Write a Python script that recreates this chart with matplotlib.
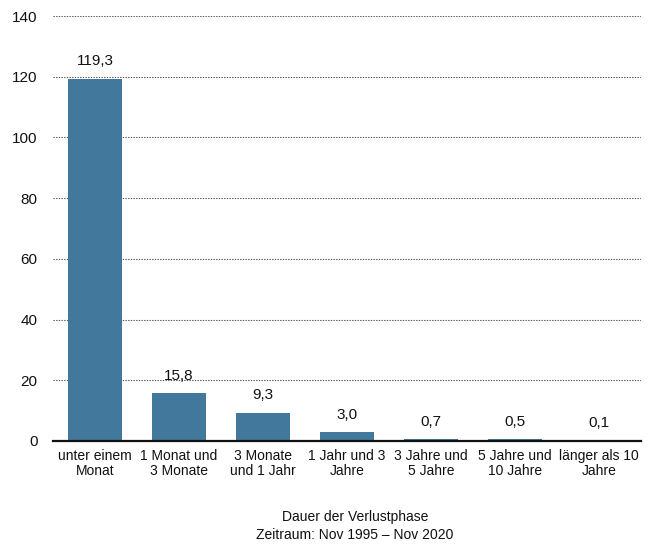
import matplotlib
matplotlib.use("Agg")
import matplotlib.pyplot as plt

plt.rcParams['font.family'] = ['Liberation Sans', 'DejaVu Sans']

categories = ["unter einem\nMonat", "1 Monat und\n3 Monate", "3 Monate\nund 1 Jahr",
              "1 Jahr und 3\nJahre", "3 Jahre und\n5 Jahre", "5 Jahre und\n10 Jahre",
              "länger als 10\nJahre"]
values = [119.3, 15.8, 9.3, 3.0, 0.7, 0.5, 0.1]
yticks = [0, 20, 40, 60, 80, 100, 120, 140]

bar_color = "#41789b"

fig = plt.figure(figsize=(6.55, 5.46), dpi=100)
ax = fig.add_axes([53/655, 105/546, 588/655, 425/546])

x = list(range(len(categories)))
ax.bar(x, values, width=0.64, color=bar_color, zorder=3)

for xi, v in zip(x, values):
    ax.annotate(f"{v:.1f}".replace(".", ","), (xi, v), xytext=(0, 12.5),
                textcoords="offset points", ha="center", va="center",
                fontsize=11, color="#111111", zorder=4)

ax.set_xlim(-0.5, 6.5)
ax.set_ylim(0, 140)
ax.set_yticks(yticks)
ax.set_yticklabels([str(t) for t in yticks], fontsize=11)
ax.set_xticks(x)
ax.set_xticklabels(categories, fontsize=10, linespacing=1.1)
ax.tick_params(axis="both", length=0, colors="#111111")
ax.tick_params(axis="y", pad=11)
ax.tick_params(axis="x", pad=6)

ax.yaxis.grid(True, linestyle=(0, (1.2, 1.2)), color="#555555", linewidth=0.8, zorder=0)
ax.set_axisbelow(True)
for s in ["top", "right", "left"]:
    ax.spines[s].set_visible(False)
ax.spines["bottom"].set_linewidth(1.6)
ax.spines["bottom"].set_color("#111111")
ax.spines["bottom"].set_zorder(5)

fig.text(355/655, 1 - 517/546, "Dauer der Verlustphase", ha="center", va="center",
         fontsize=10, color="#111111")
fig.text(355/655, 1 - 535/546, "Zeitraum: Nov 1995 \u2013 Nov 2020", ha="center", va="center",
         fontsize=10, color="#111111")

fig.savefig("out.png", dpi=100)
